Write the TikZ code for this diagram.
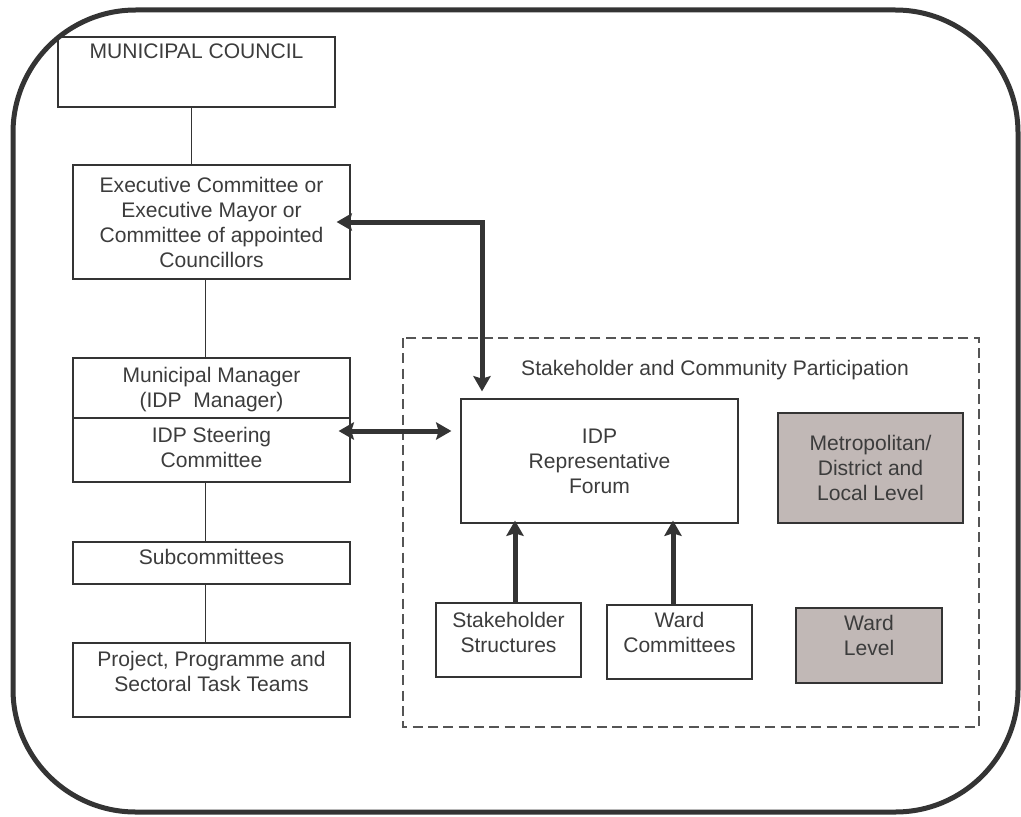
\documentclass[tikz,border=0pt]{standalone}
\usepackage{fontspec}
\setmainfont{Liberation Sans}
\usepackage{tikz}
\usetikzlibrary{positioning,arrows.meta}

\definecolor{linegray}{RGB}{52,52,52}
\definecolor{textgray}{RGB}{60,60,60}
\definecolor{dashgray}{RGB}{85,85,85}
\definecolor{levelfill}{RGB}{193,184,182}

\begin{document}
\begin{tikzpicture}[x=0.75pt, y=-0.75pt,
	box/.style={draw=linegray, line width=0.9pt, inner sep=0pt, text=textgray, align=center},
	level/.style={box, fill=levelfill},
	txt/.style={text=textgray, align=center, inner sep=0pt},
	link/.style={draw=linegray, line width=0.75pt},
	fat/.style={draw=linegray, line width=3.75pt, {Stealth[length=11.5pt, width=13pt, inset=2pt]}-{Stealth[length=11.5pt, width=13pt, inset=2pt]}},
	up/.style={draw=linegray, line width=3.75pt, -{Stealth[length=11.5pt, width=13pt, inset=2pt]}},
	font=\fontsize{15.8}{18.75}\selectfont]

\useasboundingbox (0,0) rectangle (1021,817);

\draw[linegray, line width=3.75pt, rounded corners=92pt] (13,10) rectangle (1018,812);

% left column
\node[box, minimum width=207.75pt, minimum height=52.5pt] (mc) at (196.5,72) {};
\node[txt, below=5.6pt of mc.north] (mctext) {MUNICIPAL COUNCIL};

\node[box, minimum width=207.75pt, minimum height=85.5pt] (exec) at (211.5,222)
	{Executive Committee or\\Executive Mayor or\\Committee of appointed\\Councillors};

\node[box, minimum width=207.75pt, minimum height=45pt] (mm) at (211.5,388) {};
\node[txt, below=7.1pt of mm.north] (mmtext) {Municipal Manager\\(IDP\ \ Manager)};

\node[box, minimum width=207.75pt, minimum height=48pt] (steer) at (211.5,450) {};
\node[txt, below=7.1pt of steer.north] (steertext) {IDP Steering\\Committee};

\node[box, minimum width=207.75pt, minimum height=31.5pt] (sub) at (211.5,563) {};
\node[txt, below=5.6pt of sub.north] (subtext) {Subcommittees};

\node[box, minimum width=207.75pt, minimum height=55.5pt] (proj) at (211.5,680) {};
\node[txt, below=6.4pt of proj.north] (projtext) {Project, Programme and\\Sectoral Task Teams};

\draw[link] (191,0 |- mc.south) -- (191,0 |- exec.north);
\foreach \a/\b in {exec/mm, steer/sub, sub/proj}
	\draw[link] (205,0 |- \a.south) -- (205,0 |- \b.north);

% participation
\draw[dashgray, line width=1.1pt, dash pattern=on 7.5pt off 4pt] (403,338) rectangle (979,727);
\node[txt] (title) at (715,370) {Stakeholder and Community Participation};

\node[box, minimum width=207.75pt, minimum height=93pt] (forum) at (599.5,461)
	{IDP\\Representative\\Forum};
\node[level, minimum width=138.75pt, minimum height=82.5pt] (metro) at (870.5,468)
	{Metropolitan/\\District and\\Local Level};

\node[box, minimum width=108.75pt, minimum height=55.5pt] (stake) at (508.5,640) {};
\node[txt, below=7.1pt of stake.north] (staketext) {Stakeholder\\Structures};

\node[box, minimum width=108.75pt, minimum height=55.5pt] (ward) at (679.5,642) {};
\node[txt, below=5.6pt of ward.north] (wardtext) {Ward\\Committees};

\node[level, minimum width=109.5pt, minimum height=56.25pt] (wlevel) at (869,645.5) {};
\node[txt, below=5.6pt of wlevel.north] (wleveltext) {Ward\\Level};

% arrows
\draw[fat, shorten <=-10.5pt, shorten >=5.25pt] (exec.east) -| (482,0 |- forum.north);
\draw[fat, shorten <=-9pt, shorten >=6.75pt] (steer.east |- 0,431) -- (forum.west |- 0,431);
\draw[up, shorten >=-2.25pt] (515,0 |- stake.north) -- (515,0 |- forum.south);
\draw[up, shorten >=-2.25pt] (673,0 |- ward.north) -- (673,0 |- forum.south);

\end{tikzpicture}
\end{document}
